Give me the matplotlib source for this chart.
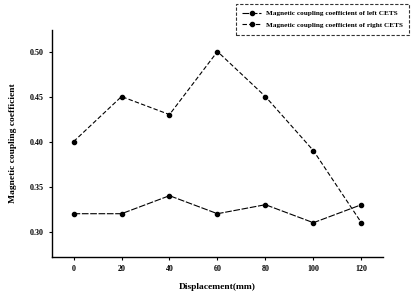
import matplotlib
matplotlib.use("Agg")
import matplotlib.pyplot as plt

displacement = [0, 20, 40, 60, 80, 100, 120]
left_cets = [0.32, 0.32, 0.34, 0.32, 0.33, 0.31, 0.33]
right_cets = [0.40, 0.45, 0.43, 0.50, 0.45, 0.39, 0.31]
y_ticks = [0.30, 0.35, 0.40, 0.45, 0.50]

plt.rcParams['font.family'] = ['Liberation Serif', 'DejaVu Serif']
plt.rcParams['font.weight'] = 'bold'

fig = plt.figure(figsize=(4.19, 2.93), dpi=100)
ax = fig.add_axes([0.124, 0.123, 0.79, 0.775])

ax.plot(displacement, left_cets, color='black', linestyle=(0, (6, 1.5)), linewidth=0.8,
        marker='o', markersize=3, label='Magnetic coupling coefficient of left CETS')
ax.plot(displacement, right_cets, color='black', linestyle=(0, (4, 2)), linewidth=0.8,
        marker='o', markersize=3, label='Magnetic coupling coefficient of right CETS')

ax.set_xlim(-9, 129)
ax.set_ylim(0.272, 0.524)
ax.set_xticks(displacement)
ax.set_yticks(y_ticks)
ax.set_yticklabels([f"{v:.2f}" for v in y_ticks])
ax.tick_params(labelsize=5.8, length=2.5, width=0.8, direction='out')
for lbl in ax.get_xticklabels() + ax.get_yticklabels():
    lbl.set_fontweight('bold')

ax.spines['top'].set_visible(False)
ax.spines['right'].set_visible(False)
ax.spines['left'].set_linewidth(1.0)
ax.spines['bottom'].set_linewidth(1.0)

ax.set_xlabel('Displacement(mm)', fontsize=6.8, fontweight='bold', labelpad=7)
ax.set_ylabel('Magnetic coupling coefficient', fontsize=6.8, fontweight='bold', labelpad=9)

leg = fig.legend(loc='upper left', bbox_to_anchor=(0.558, 0.995), fontsize=5.2,
                 frameon=True, fancybox=False, handlelength=2.6, borderpad=0.9,
                 labelspacing=0.8, handletextpad=0.6, borderaxespad=0.3)
frame = leg.get_frame()
frame.set_edgecolor('black')
frame.set_linestyle((0, (3, 1.5)))
frame.set_linewidth(0.8)

fig.savefig('out.png', dpi=100)
